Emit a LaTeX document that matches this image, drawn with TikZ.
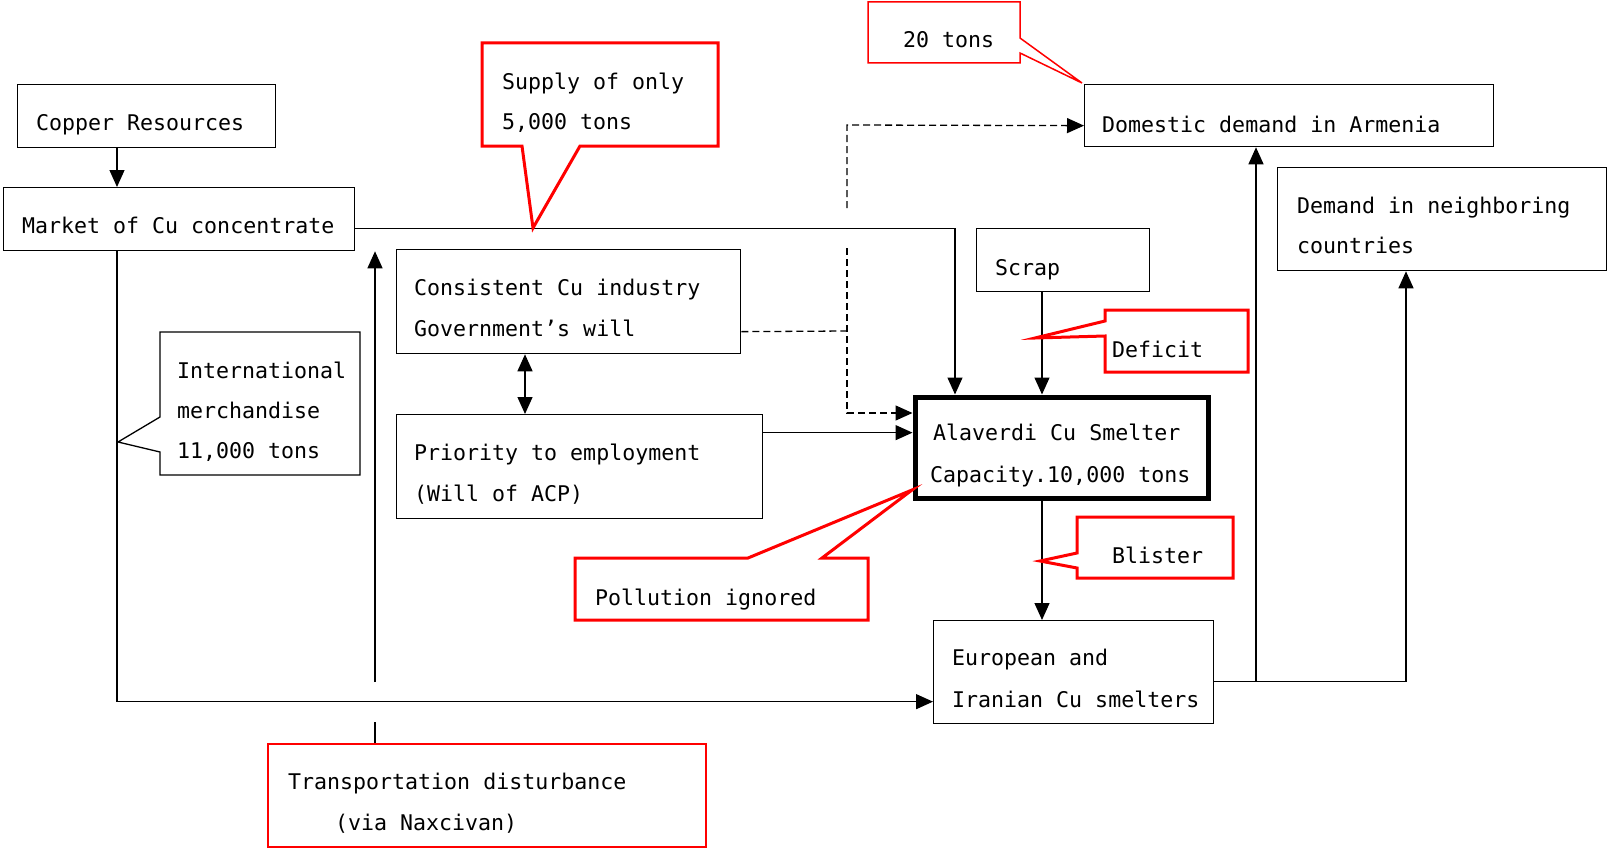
\documentclass[tikz,border=0pt]{standalone}
\usepackage{fontspec}
\setmonofont{DejaVu Sans Mono}
\usetikzlibrary{arrows.meta}
\begin{document}
\begin{tikzpicture}[x=1pt,y=-1pt,
  box/.style={draw, line width=1.3pt, fill=white, inner sep=0pt, anchor=north west},
  txt/.style={font=\fontsize{21.6}{22}\selectfont\ttfamily, anchor=base west, inner sep=0pt},
  conn/.style={line width=1.3pt},
  tip/.tip={Triangle[length=17pt,width=15pt]},
  arr/.style={conn, -tip},
  dsh/.style={conn, dash pattern=on 7pt off 4pt},
  rcall/.style={draw=red, line width=3pt, fill=white, line join=miter},
  rthin/.style={draw=red, line width=1.5pt, fill=white, line join=miter},
  bcall/.style={draw=black, line width=1.3pt, fill=white, line join=miter}]
\useasboundingbox[fill=white] (0,0) rectangle (1608,848);

% boxes
\node[box, minimum width=258pt, minimum height=63pt] (copper) at (17,84) {};
\node[box, minimum width=351pt, minimum height=63pt] (market) at (3,187) {};
\node[box, minimum width=409pt, minimum height=62pt] (domestic) at (1084,84) {};
\node[box, minimum width=329pt, minimum height=103pt] (neighbor) at (1277,167) {};
\node[box, minimum width=344pt, minimum height=104pt] (consistent) at (396,249) {};
\node[box, minimum width=173pt, minimum height=63pt] (scrap) at (976,228) {};
\node[box, minimum width=366pt, minimum height=104pt] (priority) at (396,414) {};
\node[box, line width=5pt, minimum width=293pt, minimum height=101pt] (alaverdi) at (912.5,394.5) {};
\node[box, minimum width=280pt, minimum height=103pt] (european) at (933,620) {};
\node[box, draw=red, line width=1.5pt, minimum width=438pt, minimum height=103pt] (transport) at (267,743) {};

% connectors
\draw[arr] ([xshift=100pt]copper.south west) -- ([xshift=114pt]market.north west);
\draw[arr] ([yshift=-9.5pt]market.east) -| ([xshift=42.5pt]alaverdi.north west);
\draw[arr] ([xshift=114pt]market.south west) coordinate (m1) |- ([yshift=-29.5pt]european.west);
\draw[conn] ([xshift=108pt]transport.north west) coordinate (tr1) -- ++(0,-21);
\coordinate (tr2) at (375,682);
\draw[arr] (tr2) -- (tr2 |- market.south);
% dashed
\coordinate (dj) at (847,331);
\draw[dsh] ([yshift=-30pt]consistent.east) -- (dj);
\coordinate (dtop) at (847,208);
\draw[dsh, -tip] (dtop) -- (847,125) -- ([yshift=-10pt]domestic.west);
\coordinate (dbot) at (847,248);
\draw[dsh, -tip] (dbot) -- (847,413) -- (alaverdi.west |- 0,413);
\draw[conn, tip-tip] ([xshift=129pt]consistent.south west) -- ([xshift=129pt]priority.north west);
\draw[arr] ([yshift=34pt]priority.east) coordinate (p1) -- (p1 -| alaverdi.west);
\draw[arr] ([xshift=66pt]scrap.south west) coordinate (s1) -- (s1 |- alaverdi.north);
\draw[arr] ([xshift=129.5pt]alaverdi.south west) coordinate (a1) -- (a1 |- european.north);
\draw[arr] ([yshift=-9.5pt]european.east) coordinate (e1) -| ([xshift=172pt]domestic.south west);
\draw[arr] (e1) -| ([xshift=129pt]neighbor.south west);

% callouts
\draw[rcall] (482,43) -- (718,43) -- (718,146) -- (580,146) -- (533,228) -- (522,146) -- (482,146) -- cycle;
\draw[rthin] (868,2) -- (1020,2) -- (1020,38) -- (1082,83) -- (1020,53) -- (1020,63) -- (868,63) -- cycle;
\draw[rcall] (1105,310) -- (1248,310) -- (1248,372) -- (1105,372) -- (1105,336) -- (1035,338) -- (1105,321) -- cycle;
\draw[rcall] (1077,517) -- (1233,517) -- (1233,578) -- (1077,578) -- (1077,568) -- (1040,561) -- (1077,553) -- cycle;
\draw[rcall] (575,558) -- (748,558) -- (912,490) -- (822,558) -- (868,558) -- (868,620) -- (575,620) -- cycle;
\draw[bcall] (160,332) -- (360,332) -- (360,475) -- (160,475) -- (160,452) -- (118,442) -- (160,417) -- cycle;

% texts
\node[txt] (t1) at (36,131) {Copper Resources};
\node[txt] (t2) at (22,233) {Market of Cu concentrate};
\node[txt] (t3) at (502,90) {Supply of only};
\node[txt] (t4) at (502,130) {5,000 tons};
\node[txt] (t5) at (903,48) {20 tons};
\node[txt] (t6) at (1102,132) {Domestic demand in Armenia};
\node[txt] (t7) at (1297,213) {Demand in neighboring};
\node[txt] (t8) at (1297,253) {countries};
\node[txt] (t9) at (414,295) {Consistent Cu industry};
\node[txt] (t10) at (414,336) {Government’s will};
\node[txt] (t11) at (995,275) {Scrap};
\node[txt] (t12) at (1112,357) {Deficit};
\node[txt] (t13) at (177,378) {International};
\node[txt] (t14) at (177,418) {merchandise};
\node[txt] (t15) at (177,458) {11,000 tons};
\node[txt] (t16) at (414,460) {Priority to employment};
\node[txt] (t17) at (414,501) {(Will of ACP)};
\node[txt] (t18) at (933,440) {Alaverdi Cu Smelter};
\node[txt] (t19) at (930,482) {Capacity.10,000 tons};
\node[txt] (t20) at (595,605) {Pollution ignored};
\node[txt] (t21) at (1112,563) {Blister};
\node[txt] (t22) at (952,665) {European and};
\node[txt] (t23) at (952,707) {Iranian Cu smelters};
\node[txt] (t24) at (288,789) {Transportation disturbance};
\node[txt] (t25) at (335,830) {(via Naxcivan)};
\end{tikzpicture}
\end{document}
